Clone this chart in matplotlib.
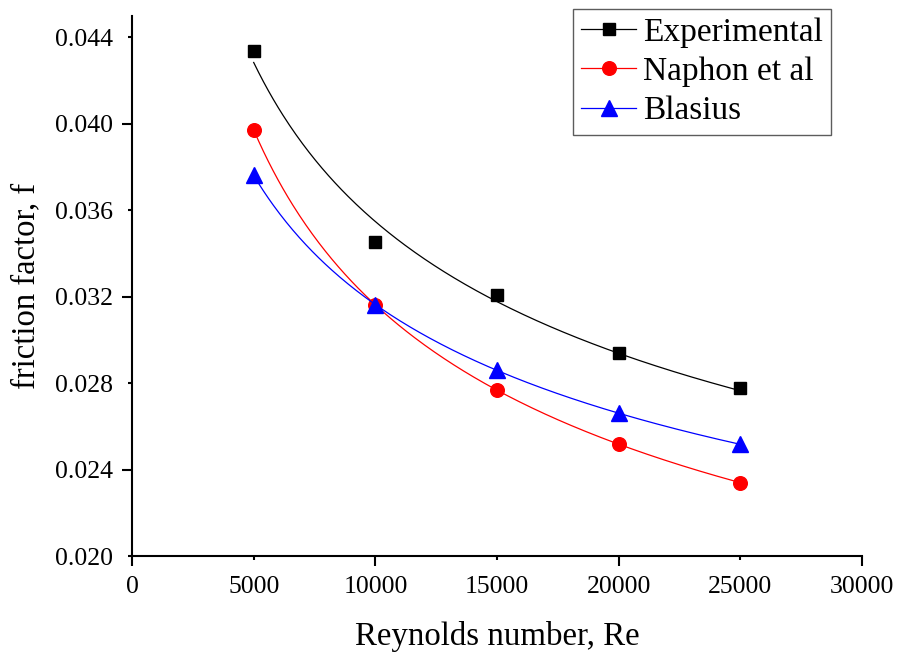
import numpy as np
import matplotlib
matplotlib.use("Agg")
import matplotlib.pyplot as plt
from matplotlib.ticker import MultipleLocator, FixedLocator, FuncFormatter

re_vals = [5000, 10000, 15000, 20000, 25000]
f_experimental = [0.04335, 0.03452, 0.03207, 0.02939, 0.02777]
f_naphon = [0.0397, 0.03161, 0.02768, 0.02518, 0.02338]
f_blasius = [0.03762, 0.0316, 0.02858, 0.02660, 0.02518]

plt.rcParams['font.family'] = ['Liberation Serif', 'DejaVu Serif']

fig = plt.figure(figsize=(9, 6.54), dpi=100)
ax = fig.add_axes([0.1467, 0.1498, 0.8111, 0.8257])


def power_fit(x, y):
    x = np.asarray(x, float)
    y = np.asarray(y, float)
    b, lna = np.polyfit(np.log(x), np.log(y), 1)
    xs = np.linspace(x.min(), x.max(), 300)
    return xs, np.exp(lna) * xs ** b


series = [
    ("Experimental", f_experimental, 'black', 's', 8.4),
    ("Naphon et al", f_naphon, 'red', 'o', 9.8),
    ("Blasius", f_blasius, 'blue', '^', 11),
]

for name, vals, col, mk, ms in series:
    xs, ys = power_fit(re_vals, vals)
    ax.plot(xs, ys, color=col, lw=0.9)
    ax.plot(re_vals, vals, linestyle='none', marker=mk, color=col, ms=ms)
    ax.plot([], [], color=col, lw=0.9, marker=mk, ms=ms, label=name)

ax.set_xlim(0, 30000)
ax.set_ylim(0.020, 0.04497)

ax.xaxis.set_major_locator(MultipleLocator(10000))
ax.xaxis.set_minor_locator(FixedLocator([5000, 15000, 25000]))
ax.yaxis.set_major_locator(FixedLocator([0.024, 0.032, 0.040]))
ax.yaxis.set_minor_locator(FixedLocator([0.020, 0.028, 0.036, 0.044]))
ax.xaxis.set_minor_formatter(FuncFormatter(lambda v, p: f"{int(v)}"))
ax.xaxis.set_major_formatter(FuncFormatter(lambda v, p: f"{int(v)}"))
ax.yaxis.set_major_formatter(FuncFormatter(lambda v, p: f"{v:.3f}"))
ax.yaxis.set_minor_formatter(FuncFormatter(lambda v, p: f"{v:.3f}"))

for s in ['top', 'right']:
    ax.spines[s].set_visible(False)
for s in ['left', 'bottom']:
    ax.spines[s].set_linewidth(1.5)

ax.tick_params(axis='y', which='major', direction='out', length=7.2, width=1.5, labelsize=18.5, pad=6.5)
ax.tick_params(axis='y', which='minor', direction='out', length=3.2, width=1.5, labelsize=18.5, pad=10.5)
ax.tick_params(axis='x', which='major', direction='out', length=7.2, width=1.5, labelsize=18.5, pad=7)
ax.tick_params(axis='x', which='minor', direction='out', length=3.2, width=1.5, labelsize=18.5, pad=11)

ax.set_xlabel("Reynolds number, Re", fontsize=23.7, labelpad=17)
ax.set_ylabel("friction factor, f", fontsize=23.5, labelpad=10)

leg = ax.legend(loc='upper right', bbox_to_anchor=(831 / 900, 1 - 9 / 654),
                bbox_transform=fig.transFigure, fontsize=24, frameon=True,
                fancybox=False, edgecolor='#333333', handlelength=1.65,
                handletextpad=0.2, borderpad=0.25, labelspacing=0.26,
                borderaxespad=0)
leg.get_frame().set_linewidth(1.0)

fig.savefig("out.png", dpi=100)
